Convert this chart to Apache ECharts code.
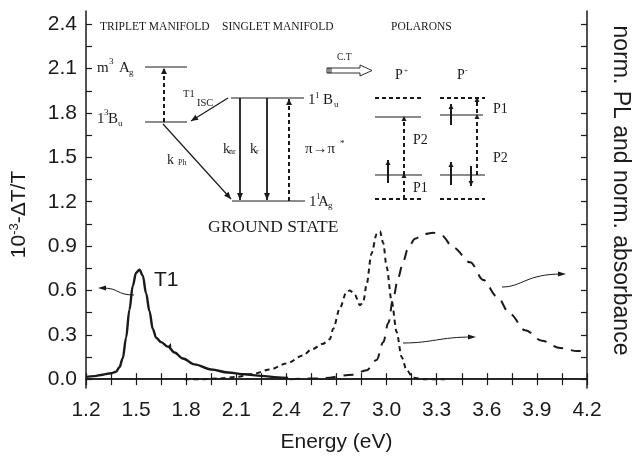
<!DOCTYPE html>
<html>
<head>
<meta charset="utf-8">
<script src="https://cdn.jsdelivr.net/npm/echarts@6/dist/echarts.min.js"></script>
<style>
  html, body { margin: 0; padding: 0; background: #ffffff; }
  #chart { width: 640px; height: 459px; }
</style>
</head>
<body>
<div id="chart"></div>
<script>
// Photoinduced absorption (left axis, 10^-3 -ΔT/T), triplet T1 band
const dtEnergy = [1.20, 1.25, 1.30, 1.35, 1.38, 1.40, 1.42, 1.44, 1.46, 1.48, 1.50, 1.52, 1.54, 1.56, 1.58, 1.60, 1.62, 1.65, 1.69, 1.73, 1.78, 1.85, 1.95, 2.05, 2.15, 2.25, 2.35, 2.41];
const dtSignal = [0.015, 0.02, 0.03, 0.04, 0.05, 0.08, 0.14, 0.28, 0.47, 0.63, 0.72, 0.74, 0.70, 0.58, 0.46, 0.34, 0.28, 0.25, 0.22, 0.18, 0.14, 0.10, 0.065, 0.045, 0.033, 0.022, 0.012, 0.008];

// Normalised photoluminescence (right axis)
const plEnergy = [1.79, 1.90, 2.00, 2.10, 2.20, 2.30, 2.40, 2.50, 2.55, 2.62, 2.66, 2.68, 2.72, 2.76, 2.78, 2.81, 2.84, 2.86, 2.88, 2.91, 2.94, 2.96, 2.98, 3.00, 3.03, 3.06, 3.09, 3.12, 3.16, 3.22, 3.35];
const plValue  = [0.00, 0.00, 0.005, 0.015, 0.035, 0.065, 0.105, 0.16, 0.20, 0.24, 0.27, 0.34, 0.48, 0.59, 0.60, 0.57, 0.50, 0.52, 0.64, 0.85, 0.98, 1.00, 0.92, 0.76, 0.53, 0.32, 0.15, 0.06, 0.01, 0.00, 0.00];

// Normalised absorbance (right axis)
const absEnergy = [2.42, 2.60, 2.80, 2.88, 2.94, 2.98, 3.01, 3.04, 3.07, 3.10, 3.13, 3.17, 3.22, 3.28, 3.33, 3.40, 3.50, 3.58, 3.66, 3.74, 3.83, 3.93, 4.04, 4.14, 4.20];
const absValue  = [0.00, 0.005, 0.03, 0.06, 0.13, 0.25, 0.38, 0.55, 0.69, 0.80, 0.89, 0.95, 0.98, 0.99, 0.97, 0.89, 0.79, 0.67, 0.56, 0.44, 0.33, 0.26, 0.21, 0.19, 0.19];

// Axis ticks
const yTickValues  = [0, 0.15, 0.3, 0.45, 0.6, 0.75, 0.9, 1.05, 1.2, 1.35, 1.5, 1.65, 1.8, 1.95, 2.1, 2.25, 2.4];
const yLabelValues = [0, 0.3, 0.6, 0.9, 1.2, 1.5, 1.8, 2.1, 2.4];

const INK = '#1a1a1a';
const SERIF = '"Liberation Serif", "DejaVu Serif", serif';
const SANS = '"Liberation Sans", Arial, sans-serif';

const zip = (xs, ys) => xs.map((x, i) => [x, ys[i]]);

const chart = echarts.init(document.getElementById('chart'), null, { renderer: 'canvas' });

// ---- helpers for the energy-level inset ----
function seg(x1, y1, x2, y2, w, dash, color) {
  return { type: 'line', silent: true, z: 10,
    shape: { x1, y1, x2, y2 },
    style: { stroke: color || INK, lineWidth: w || 1, lineDash: dash || null } };
}
function head(x, y, angleDeg, len, wid) {
  const a = angleDeg * Math.PI / 180;
  len = len || 7; wid = wid || 3;
  const bx = x - len * Math.cos(a), by = y - len * Math.sin(a);
  const px = -Math.sin(a) * wid, py = Math.cos(a) * wid;
  return { type: 'polygon', silent: true, z: 11,
    shape: { points: [[x, y], [bx + px, by + py], [bx - px, by - py]] },
    style: { fill: INK } };
}
function arrow(x1, y1, x2, y2, w, dash, hl, hw) {
  const ang = Math.atan2(y2 - y1, x2 - x1) * 180 / Math.PI;
  return [seg(x1, y1, x2, y2, w, dash), head(x2, y2, ang, hl, hw)];
}
function txt(x, y, s, size, family, align) {
  return { type: 'text', silent: true, z: 12, x, y,
    style: { text: s, font: size + 'px ' + (family || SERIF), fill: INK,
      textAlign: align || 'left', textVerticalAlign: 'middle' } };
}
function curvedArrow(x0, y0, c1x, c1y, c2x, c2y, x1, y1, dir) {
  return [
    { type: 'bezierCurve', silent: true, z: 10,
      shape: { x1: x0, y1: y0, cpx1: c1x, cpy1: c1y, cpx2: c2x, cpy2: c2y, x2: x1, y2: y1 },
      style: { stroke: INK, lineWidth: 1, fill: null } },
    head(x1 + (dir > 0 ? 4 : -4), y1, dir > 0 ? 0 : 180, 8, 2.5)
  ];
}

const dashV = [4, 3];
const inset = [].concat(
  // headings
  txt(100, 27, 'TRIPLET MANIFOLD', 11.5),
  txt(222, 27, 'SINGLET MANIFOLD', 11.5),
  txt(391, 27, 'POLARONS', 11.5),

  // triplet manifold
  seg(145, 67, 187, 67, 1.2),
  seg(145, 122, 187, 122, 1.2),
  arrow(164, 122, 164, 68, 2, dashV, 6, 3),
  txt(97, 68, 'm', 15), txt(109, 62, '3', 9), txt(119, 68, 'A', 15), txt(129, 73, 'g', 9),
  txt(97, 119, '1', 15), txt(104, 113, '3', 9), txt(108, 119, 'B', 15), txt(118, 124, 'u', 9),
  txt(183, 94, 'T1', 10.5),

  // singlet manifold
  seg(231, 98, 304, 98, 1.2),
  seg(232, 201, 305, 201, 1.2),
  arrow(228, 98, 191, 121, 1.2, null, 7, 3),
  txt(197, 103, 'ISC', 10.5),
  arrow(163, 124, 231, 199, 1.2, null, 7, 3),
  txt(167, 160, 'k', 14), txt(178, 163, 'Ph', 8),
  arrow(240, 98, 240, 200, 1.8, null, 7, 3),
  arrow(267, 98, 267, 200, 1.8, null, 7, 3),
  arrow(289, 201, 289, 99, 2, dashV, 6, 3),
  txt(223, 149, 'k', 14), txt(229, 152, 'nr', 8),
  txt(250, 149, 'k', 14), txt(256, 152, 'r', 8),
  txt(305, 149, 'π→π', 15), txt(340, 144, '*', 9),
  txt(308, 100, '1', 15), txt(315, 96, '1', 9), txt(323, 100, 'B', 15), txt(334, 105, 'u', 9),
  txt(309, 202, '1', 15), txt(316, 197, '1', 9), txt(318, 202, 'A', 15), txt(328, 206, 'g', 9),
  txt(208, 227, 'GROUND STATE', 17.5),

  // charge-transfer arrow
  { type: 'polygon', silent: true, z: 10,
    shape: { points: [[331, 68], [360, 68], [360, 65], [372, 70.5], [360, 76], [360, 73], [331, 73]] },
    style: { fill: '#fff', stroke: INK, lineWidth: 0.9 } },
  seg(327, 68, 327, 73, 1), seg(329, 68, 329, 73, 1), seg(327, 68, 331, 68, 1), seg(327, 73, 331, 73, 1),
  txt(337, 57, 'C.T', 9.5),

  // positive polaron
  txt(395, 75, 'P', 14), txt(404, 71, '+', 7),
  seg(375, 98, 423, 98, 2, [4, 3]),
  seg(375, 117, 421, 117, 1.2),
  seg(375, 175, 422, 175, 1.2),
  seg(375, 199, 423, 199, 2, [4, 3]),
  arrow(388, 183, 388, 160, 2, null, 5, 2.5),
  seg(404, 199, 404, 176, 2, dashV), head(404, 173, -90, 5, 2.5),
  seg(404, 175, 404, 119, 2, dashV), head(404, 116, -90, 5, 2.5),
  txt(413, 140, 'P2', 14),
  txt(413, 188, 'P1', 14),

  // negative polaron
  txt(457, 75, 'P', 14), txt(465, 71, '-', 8),
  seg(440, 98, 485, 98, 2, [4, 3]),
  seg(440, 115, 483, 115, 1.2),
  seg(440, 175, 485, 175, 1.2),
  seg(440, 199, 485, 199, 2, [4, 3]),
  arrow(451, 125, 451, 104, 2, null, 5, 2.5),
  arrow(451, 185, 451, 162, 2, null, 5, 2.5),
  arrow(471, 166, 471, 186, 2, null, 5, 2.5),
  seg(477, 175, 477, 118, 2, dashV), head(477, 114, -90, 5, 2.5),
  seg(477, 113, 477, 101, 2, dashV), head(477, 97, -90, 5, 2.5),
  txt(493, 109, 'P1', 14),
  txt(493, 158, 'P2', 14),

  // curve annotations
  txt(154, 280, 'T1', 21, SANS),
  curvedArrow(134, 295, 116, 295, 120, 288, 102, 288, -1),
  curvedArrow(403, 343, 432, 343, 440, 337, 472, 337, 1),
  curvedArrow(502, 287, 522, 287, 526, 274, 562, 274, 1),
  head(171, 343, -70, 5, 2.2)
);

const tickStyle = { show: true, inside: true, length: 6, lineStyle: { color: INK, width: 1.2 } };
const lineAxis = { show: true, lineStyle: { color: INK, width: 1.5 } };

const option = {
  backgroundColor: '#ffffff',
  animation: false,
  grid: { left: 86, right: 40, top: 11, bottom: 71 },
  xAxis: [
    {
      type: 'value', min: 1.2, max: 4.2, interval: 0.3,
      name: 'Energy (eV)', nameLocation: 'middle', nameGap: 44,
      nameTextStyle: { fontFamily: SANS, fontSize: 21, color: INK },
      axisLine: lineAxis, axisTick: tickStyle,
      minorTick: { show: true, splitNumber: 2, length: 6, lineStyle: { color: INK, width: 1.2 } },
      axisLabel: { fontFamily: SANS, fontSize: 21, color: INK, margin: 12,
        formatter: v => v.toFixed(1) },
      splitLine: { show: false }, minorSplitLine: { show: false }
    },
    {
      type: 'value', position: 'top', min: 1.2, max: 4.2, interval: 0.3,
      axisLine: lineAxis, axisTick: tickStyle,
      minorTick: { show: true, splitNumber: 2, length: 6, lineStyle: { color: INK, width: 1.2 } },
      axisLabel: { show: false }, splitLine: { show: false }
    }
  ],
  yAxis: [
    {
      type: 'value', min: -0.06, max: 2.49,
      name: '{n|10}{s|-3}{n|-ΔT/T}', nameLocation: 'middle', nameGap: 56, nameRotate: 90,
      nameTextStyle: { color: INK, padding: [0, 30, 0, 0],
        rich: { n: { fontFamily: SANS, fontSize: 21, color: INK },
                s: { fontFamily: SANS, fontSize: 13, color: INK, verticalAlign: 'top', padding: [0, 0, 9, 0] } } },
      axisLine: lineAxis,
      axisTick: Object.assign({}, tickStyle, { customValues: yTickValues }),
      axisLabel: { fontFamily: SANS, fontSize: 21, color: INK, margin: 9,
        customValues: yLabelValues, formatter: v => v.toFixed(1) },
      splitLine: { show: false }
    },
    {
      type: 'value', position: 'right', min: -0.06, max: 2.49,
      name: 'norm. PL and norm. absorbance', nameLocation: 'middle', nameGap: 22, nameRotate: -90,
      nameTextStyle: { fontFamily: SANS, fontSize: 23, color: INK, padding: [0, 18, 0, 0] },
      axisLine: lineAxis,
      axisTick: Object.assign({}, tickStyle, { customValues: yTickValues }),
      axisLabel: { show: false },
      splitLine: { show: false }
    }
  ],
  series: [
    {
      name: 'T1 photoinduced absorption', type: 'line', xAxisIndex: 0, yAxisIndex: 0,
      data: zip(dtEnergy, dtSignal), showSymbol: false, smooth: 0.35, smoothMonotone: 'x',
      lineStyle: { color: INK, width: 2.4 }, z: 5
    },
    {
      name: 'PL', type: 'line', xAxisIndex: 0, yAxisIndex: 1,
      data: zip(plEnergy, plValue), showSymbol: false, smooth: 0.3, smoothMonotone: 'x',
      lineStyle: { color: INK, width: 2, type: [5, 4] }, z: 4
    },
    {
      name: 'absorbance', type: 'line', xAxisIndex: 0, yAxisIndex: 1,
      data: zip(absEnergy, absValue), showSymbol: false, smooth: 0.35, smoothMonotone: 'x',
      lineStyle: { color: INK, width: 2, type: [10, 8] }, z: 4
    }
  ],
  graphic: { elements: inset }
};

chart.setOption(option);
</script>
</body>
</html>
